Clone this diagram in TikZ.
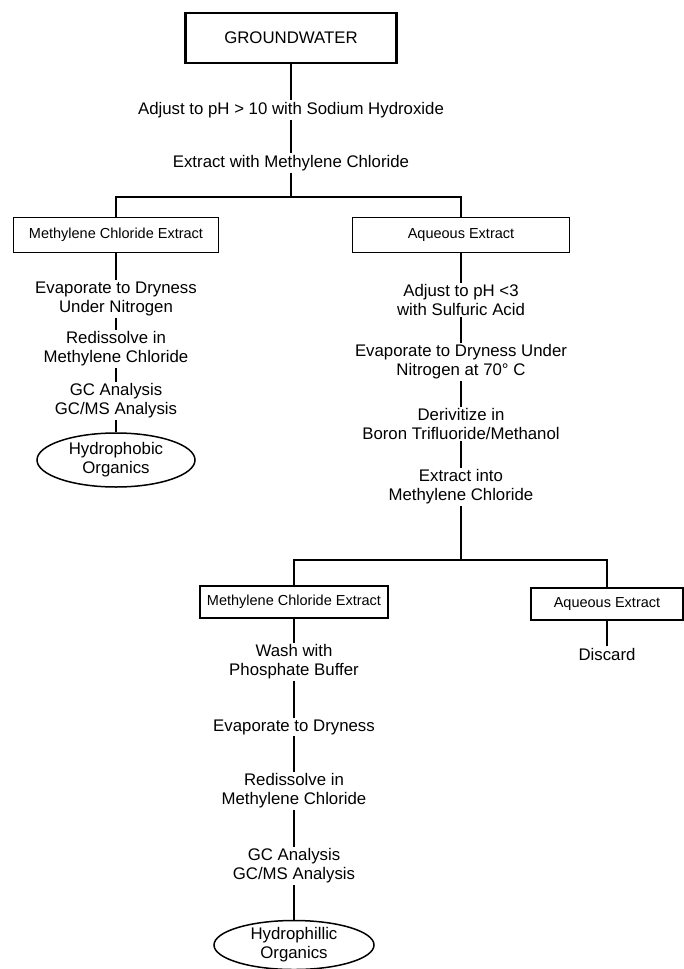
\documentclass[tikz,border=0pt]{standalone}
\usepackage{fontspec}
\setmainfont{Liberation Sans}
\usetikzlibrary{positioning,shapes.geometric}
\newcommand{\stepfont}{\fontsize{16.8}{19}\selectfont}
\newcommand{\boxfont}{\fontsize{14.5}{16}\selectfont}
\tikzset{
  source/.style={rectangle,draw,line width=2.6pt,minimum width=211pt,minimum height=50pt,font=\stepfont},
  fraction/.style={rectangle,draw,line width=1.5pt,minimum height=35pt,inner sep=2pt,font=\boxfont},
  stepnode/.style={align=center,inner sep=1.5pt,font=\stepfont},
  product/.style={ellipse,draw,line width=1.5pt,align=center,inner sep=0pt,font=\stepfont},
  link/.style={line width=1.5pt}
}

\begin{document}
\begin{tikzpicture}[x=1pt,y=-1pt]
  \useasboundingbox (0,0) rectangle (683,969);
  \node[source] (gw) at (291,38) {GROUNDWATER};
  \node[stepnode] (base) at (291,110) {Adjust to pH > 10 with Sodium Hydroxide};
  \node[stepnode] (mcx) at (291,163) {Extract with Methylene Chloride};
  \coordinate (split1) at (291,197);
  \node[fraction,minimum width=205pt] (org1) at (116,235) {Methylene Chloride Extract};
  \node[fraction,minimum width=217pt] (aq1) at (461,235) {Aqueous Extract};
  \draw[link] (gw) -- (base);
  \draw[link] (base) -- (mcx);
  \draw[link] (mcx) -- (split1);
  \draw[link] (org1) |- (split1) -| (aq1);
  % hydrophobic branch
  \node[stepnode] (dry1) at (116,299) {Evaporate to Dryness\\Under Nitrogen};
  \node[stepnode] (redis1) at (116,349) {Redissolve in\\Methylene Chloride};
  \node[stepnode] (gc1) at (116,401) {GC Analysis\\GC/MS Analysis};
  \node[product,minimum width=158pt,minimum height=54pt] (phob) at (116,460) {Hydrophobic\\Organics};
  \draw[link] (org1) -- (dry1);
  \draw[link] (dry1) -- (redis1);
  \draw[link] (redis1) -- (gc1);
  \draw[link] (gc1) -- (phob);
  % aqueous branch
  \node[stepnode] (acid) at (461,300) {Adjust to pH <3\\with Sulfuric Acid};
  \node[stepnode] (dry2) at (461,362) {Evaporate to Dryness Under\\Nitrogen at 70° C};
  \node[stepnode] (deriv) at (461,424) {Derivitize in\\Boron Trifluoride/Methanol};
  \node[stepnode] (mcx2) at (461,487) {Extract into\\Methylene Chloride};
  \coordinate (split2) at (461,560);
  \draw[link] (aq1) -- (acid);
  \draw[link] (acid) -- (dry2);
  \draw[link] (dry2) -- (deriv);
  \draw[link] (deriv) -- (mcx2);
  \draw[link] (mcx2) -- (split2);
  \node[fraction,minimum width=188pt,minimum height=32pt] (org2) at (294,602) {Methylene Chloride Extract};
  \node[fraction,minimum width=152pt,minimum height=32pt] (aq2) at (607,604) {Aqueous Extract};
  \draw[link] (org2) |- (split2) -| (aq2);
  \node[stepnode] (discard) at (607,654) {Discard};
  \draw[link] (aq2) -- (discard);
  % hydrophilic branch
  \node[stepnode] (wash) at (294,662) {Wash with\\Phosphate Buffer};
  \node[stepnode] (dry3) at (294,727) {Evaporate to Dryness};
  \node[stepnode] (redis2) at (294,791) {Redissolve in\\Methylene Chloride};
  \node[stepnode] (gc2) at (294,866) {GC Analysis\\GC/MS Analysis};
  \node[product,minimum width=160pt,minimum height=46pt] (phil) at (294,945) {Hydrophillic\\Organics};
  \draw[link] (org2) -- (wash);
  \draw[link] (wash) -- (dry3);
  \draw[link] (dry3) -- (redis2);
  \draw[link] (redis2) -- (gc2);
  \draw[link] (gc2) -- (phil);
\end{tikzpicture}
\end{document}
